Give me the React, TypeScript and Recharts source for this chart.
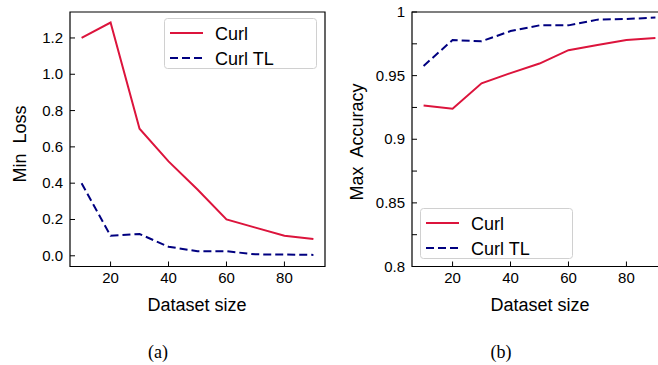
import { LineChart, Line, XAxis, YAxis, ReferenceArea } from "recharts";

const sizes = [10, 20, 30, 40, 50, 60, 70, 80, 90];
const curlLoss = [1.2, 1.285, 0.7, 0.52, 0.365, 0.2, 0.155, 0.11, 0.093];
const curlTlLoss = [0.4, 0.11, 0.12, 0.05, 0.025, 0.025, 0.008, 0.007, 0.005];
const curlAcc = [0.9265, 0.924, 0.944, 0.952, 0.9595, 0.97, 0.974, 0.978, 0.9795];
const curlTlAcc = [0.9576, 0.978, 0.977, 0.985, 0.9895, 0.9895, 0.994, 0.9945, 0.9956];

const xTicks = [20, 40, 60, 80];
const lossTicks = [0, 0.2, 0.4, 0.6, 0.8, 1.0, 1.2];
const accTicks = [0.8, 0.825, 0.85, 0.875, 0.9, 0.925, 0.95, 0.975, 1];
const accLabels: Record<string, string> = { "0.8": "0.8", "0.85": "0.85", "0.9": "0.9", "0.95": "0.95", "1": "1" };

const X_DOMAIN: [number, number] = [6, 94];
const LOSS_DOMAIN: [number, number] = [-0.059, 1.343];
const ACC_DOMAIN: [number, number] = [0.8, 1];

const RED = "#dc143c";
const NAVY = "#000080";
const DASH = "8 4";
const FONT = "'Liberation Sans', Arial, sans-serif";
const SERIF = "'Liberation Serif', 'DejaVu Serif', serif";

const lossData = sizes.map((s, i) => ({ size: s, curl: curlLoss[i], curlTl: curlTlLoss[i] }));
const accData = sizes.map((s, i) => ({ size: s, curl: curlAcc[i], curlTl: curlTlAcc[i] }));

const XTick = ({ x, y, payload }: any) => (
  <g>
    <line x1={x} x2={x} y1={y} y2={y - 5} stroke="#000" strokeWidth={1} />
    <text x={x} y={y + 16} textAnchor="middle" fontSize={15} fill="#000" fontFamily={FONT}>
      {payload.value}
    </text>
  </g>
);

const makeYTick = (fmt: (v: number) => string) => ({ x, y, payload }: any) => (
  <g>
    <line x1={x} x2={x + 5} y1={y} y2={y} stroke="#000" strokeWidth={1} />
    <text x={x - 7} y={y + 5} textAnchor="end" fontSize={15} fill="#000" fontFamily={FONT}>
      {fmt(payload.value)}
    </text>
  </g>
);

const LossTick = makeYTick((v) => v.toFixed(1));
const AccTick = makeYTick((v) => accLabels[String(v)] ?? "");

// legend box drawn over the plot, same look in both panels
const LegendBox = ({ left, top }: { left: number; top: number }) => (
  <svg
    width={153}
    height={51}
    style={{ position: "absolute", left, top }}
  >
    <rect x={0.5} y={0.5} width={152} height={50} rx={3} fill="#fff" fillOpacity={0.85} stroke="#d0d0d0" />
    <line x1={6} x2={39} y1={15} y2={15} stroke={RED} strokeWidth={2} />
    <line x1={6} x2={39} y1={40} y2={40} stroke={NAVY} strokeWidth={2} strokeDasharray={DASH} />
    <text x={51} y={21.5} fontSize={18} fontFamily={FONT} fill="#000">Curl</text>
    <text x={51} y={46.5} fontSize={18} fontFamily={FONT} fill="#000">Curl TL</text>
  </svg>
);

const Title = ({ text, x, y, rotate = false, font = FONT, size = 18 }: any) => (
  <div
    style={{
      position: "absolute",
      left: x,
      top: y,
      transform: `translate(-50%, -50%)${rotate ? " rotate(-90deg)" : ""}`,
      whiteSpace: "pre",
      fontSize: size,
      fontFamily: font,
      color: "#000",
      lineHeight: 1,
    }}
  >
    {text}
  </div>
);

const Panel = ({
  data,
  yDomain,
  yTicks,
  tick,
}: {
  data: any[];
  yDomain: [number, number];
  yTicks: number[];
  tick: any;
}) => (
  <LineChart width={330} height={320} data={data} margin={{ top: 12, right: 5, bottom: 0, left: 0 }}>
    <XAxis
      dataKey="size"
      type="number"
      domain={X_DOMAIN}
      ticks={xTicks}
      allowDataOverflow
      height={53.5}
      tickSize={0}
      tickMargin={0}
      tickLine={false}
      axisLine={false}
      tick={<XTick />}
    />
    <YAxis
      type="number"
      domain={yDomain}
      ticks={yTicks}
      allowDataOverflow
      width={70}
      tickSize={0}
      tickMargin={0}
      tickLine={false}
      axisLine={false}
      interval={0}
      tick={tick}
    />
    <ReferenceArea
      x1={X_DOMAIN[0]}
      x2={X_DOMAIN[1]}
      y1={yDomain[0]}
      y2={yDomain[1]}
      fill="none"
      stroke="#000"
      strokeWidth={1.2}
      ifOverflow="visible"
    />
    <Line dataKey="curl" stroke={RED} strokeWidth={2} dot={false} isAnimationActive={false} />
    <Line
      dataKey="curlTl"
      stroke={NAVY}
      strokeWidth={2}
      strokeDasharray={DASH}
      dot={false}
      isAnimationActive={false}
    />
  </LineChart>
);

export default function App() {
  return (
    <div
      style={{
        position: "absolute",
        left: 0,
        top: 0,
        width: 658,
        height: 365,
        overflow: "hidden",
        background: "#fff",
      }}
    >
      <div style={{ position: "absolute", left: 0, top: 0 }}>
        <Panel data={lossData} yDomain={LOSS_DOMAIN} yTicks={lossTicks} tick={<LossTick />} />
      </div>
      <div style={{ position: "absolute", left: 342, top: 0 }}>
        <Panel data={accData} yDomain={ACC_DOMAIN} yTicks={accTicks} tick={<AccTick />} />
      </div>
      <LegendBox left={164} top={18} />
      <LegendBox left={420} top={208} />
      <Title text="Min  Loss" x={20} y={144} rotate />
      <Title text="Dataset size" x={197} y={305} />
      <Title text="Max  Accuracy" x={357} y={142} rotate />
      <Title text="Dataset size" x={540} y={305} />
      <Title text="(a)" x={158} y={352} font={SERIF} size={18} />
      <Title text="(b)" x={501} y={352} font={SERIF} size={18} />
    </div>
  );
}
